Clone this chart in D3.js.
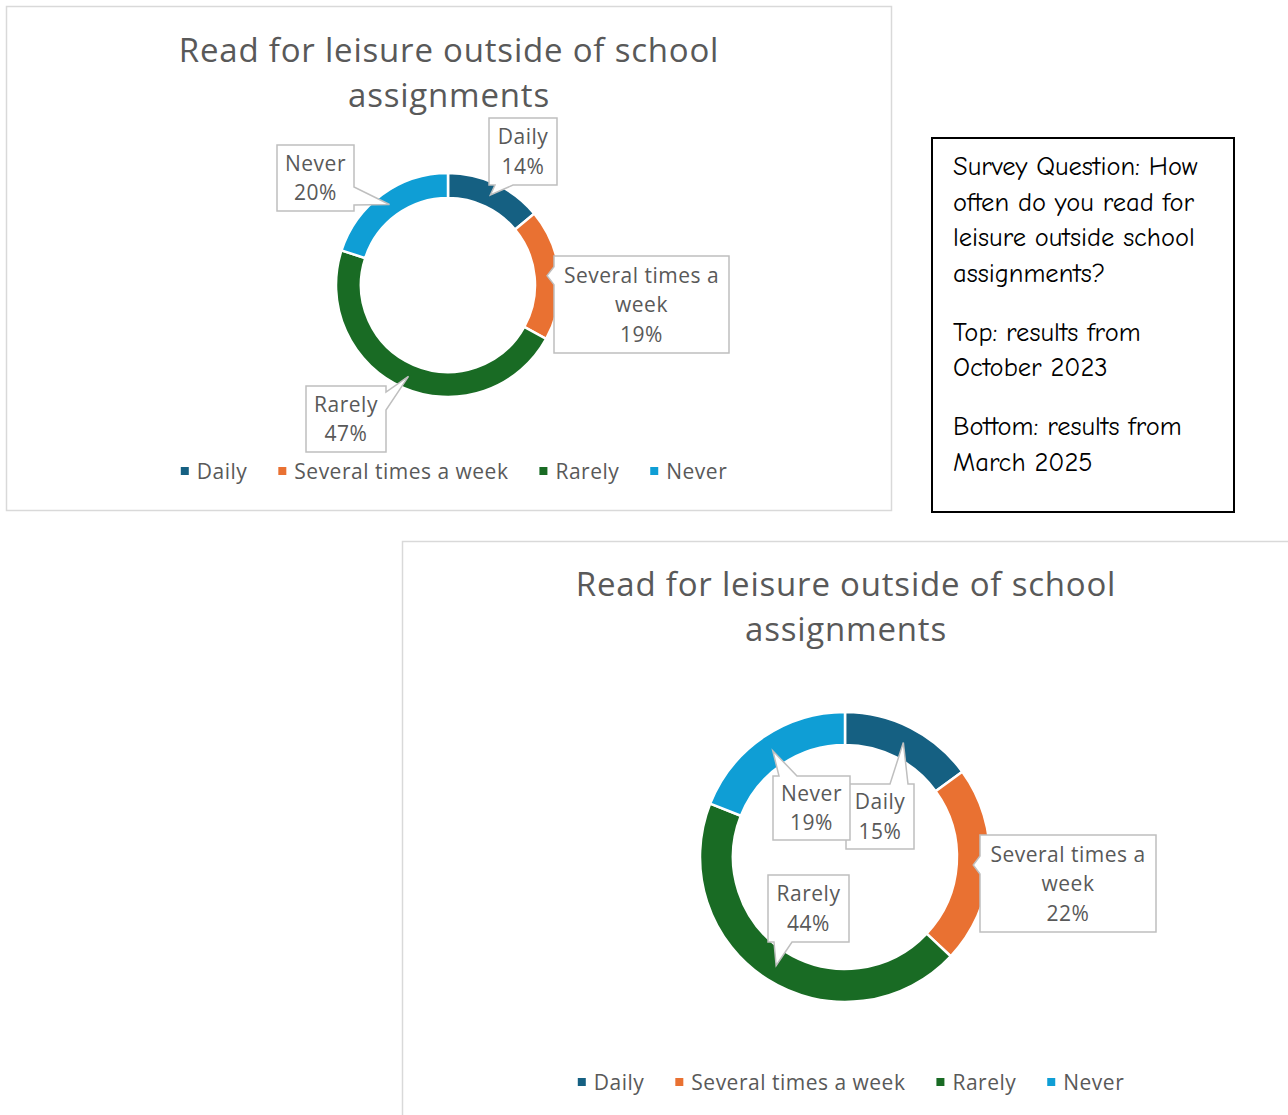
<!DOCTYPE html>
<html>
<head>
<meta charset="utf-8">
<script src="https://cdn.jsdelivr.net/npm/d3@7"></script>
<style>
  body { margin: 0; background: #fff; }
  svg { display: block; }
</style>
</head>
<body>
<svg id="page" width="1288" height="1115"></svg>
<script>
// data
const categories = ["Daily", "Several times a week", "Rarely", "Never"];
const calloutNames = [["Daily"], ["Several times a", "week"], ["Rarely"], ["Never"]];
const values2023 = [14, 19, 47, 20];
const values2025 = [15, 22, 44, 19];
const colors = ["#156082", "#E97132", "#196B24", "#0F9ED5"];
const titleLines = ["Read for leisure outside of school", "assignments"];
const noteParas = [
  ["Survey Question: How", "often do you read for", "leisure outside school", "assignments?"],
  ["Top: results from", "October 2023"],
  ["Bottom: results from", "March 2025"]
];

const font = "'Open Sans', 'Noto Sans', sans-serif";
const grey = "#595959";

const svg = d3.select("#page");

// chart layouts (callout boxes are offsets from the donut centre: dx, dy, w, h)
const charts = [
  {
    values: values2023,
    frame: [6, 6, 885, 504],
    cx: 448, cy: 285, rOuter: 112, rInner: 87,
    titleY: [62, 107],
    legendY: 471, legendCx: 454,
    callouts: [[75, -133.5, 68, 67], [193.5, 19.5, 175, 97], [-102, 134, 80, 66], [-132.5, -107, 77, 66]]
  },
  {
    values: values2025,
    frame: [402, 541, 900, 600],
    cx: 845, cy: 857, rOuter: 145, rInner: 112,
    titleY: [596, 641],
    legendY: 1082, legendCx: 851,
    callouts: [[35, -40.5, 68, 65], [223, 26.5, 176, 97], [-36.5, 51.5, 81, 67], [-33.5, -49, 77, 64]]
  }
];

function calloutPath(x, y, w, h, tx, ty) {
  // rectangle with a wedge pointing to (tx, ty)
  let ox = tx < x ? x - tx : (tx > x + w ? tx - (x + w) : 0);
  let oy = ty < y ? y - ty : (ty > y + h ? ty - (y + h) : 0);
  let half = 9;
  let pts = [];
  if (oy >= ox) {
    let c = Math.max(x + 6 + half, Math.min(x + w - 6 - half, tx));
    if (ty < y) {
      pts = [[x, y], [c - half, y], [tx, ty], [c + half, y], [x + w, y], [x + w, y + h], [x, y + h]];
    } else {
      pts = [[x, y], [x + w, y], [x + w, y + h], [c + half, y + h], [tx, ty], [c - half, y + h], [x, y + h]];
    }
  } else {
    let c = Math.max(y + 6 + half, Math.min(y + h - 6 - half, ty));
    if (tx < x) {
      pts = [[x, y], [x + w, y], [x + w, y + h], [x, y + h], [x, c + half], [tx, ty], [x, c - half]];
    } else {
      pts = [[x, y], [x + w, y], [x + w, c - half], [tx, ty], [x + w, c + half], [x + w, y + h], [x, y + h]];
    }
  }
  return "M" + pts.map(p => p.join(",")).join("L") + "Z";
}

charts.forEach(ch => {
  const g = svg.append("g");
  const [fx, fy, fw, fh] = ch.frame;

  g.append("rect")
    .attr("x", fx + 0.5).attr("y", fy + 0.5)
    .attr("width", fw).attr("height", fh)
    .attr("fill", "#fff")
    .attr("stroke", "#d9d9d9")
    .attr("stroke-width", 1.5);

  g.selectAll("text.title")
    .data(titleLines)
    .join("text")
    .attr("class", "title")
    .attr("x", ch.cx + 1)
    .attr("y", (d, i) => ch.titleY[i])
    .attr("text-anchor", "middle")
    .attr("font-family", font)
    .attr("font-size", 33)
    .attr("letter-spacing", 0.8)
    .attr("fill", grey)
    .text(d => d);

  const pie = d3.pie().sort(null).value(d => d);
  const arcs = pie(ch.values);
  const arc = d3.arc().innerRadius(ch.rInner).outerRadius(ch.rOuter);

  const donut = g.append("g").attr("transform", `translate(${ch.cx},${ch.cy})`);
  donut.selectAll("path")
    .data(arcs)
    .join("path")
    .attr("d", arc)
    .attr("fill", (d, i) => colors[i])
    .attr("stroke", "#fff")
    .attr("stroke-width", 2.5);

  // callouts
  arcs.forEach((a, i) => {
    const [tx, ty] = arc.centroid(a);
    const [dx, dy, w, h] = ch.callouts[i];
    const bx = dx - w / 2, by = dy - h / 2;
    donut.append("path")
      .attr("d", calloutPath(bx, by, w, h, tx, ty))
      .attr("fill", "#fff")
      .attr("stroke", "#bfbfbf")
      .attr("stroke-width", 1.5);
    const lines = calloutNames[i].concat([a.data + "%"]);
    const lh = 29.5;
    donut.append("g").selectAll("text")
      .data(lines)
      .join("text")
      .attr("x", dx)
      .attr("y", (d, j) => dy + (j - (lines.length - 1) / 2) * lh + 7.5)
      .attr("text-anchor", "middle")
      .attr("font-family", font)
      .attr("font-size", 21)
      .attr("letter-spacing", 0.5)
      .attr("fill", grey)
      .text(d => d);
  });

  // legend
  const leg = g.append("g");
  const items = leg.selectAll("g")
    .data(categories)
    .join("g");
  items.append("rect")
    .attr("width", 8).attr("height", 8)
    .attr("y", ch.legendY - 4)
    .attr("fill", (d, i) => colors[i]);
  items.append("text")
    .attr("x", 16)
    .attr("y", ch.legendY + 7.5)
    .attr("font-family", font)
    .attr("font-size", 21)
    .attr("letter-spacing", 0.5)
    .attr("fill", grey)
    .text(d => d);
  let xpos = 0;
  const offs = [];
  items.each(function () {
    const tw = d3.select(this).select("text").node().getComputedTextLength();
    offs.push(xpos);
    xpos += 16 + tw + 31;
  });
  const total = xpos - 31;
  const start = ch.legendCx - total / 2;
  items.attr("transform", (d, i) => `translate(${start + offs[i]},0)`);
});

// note box
const note = svg.append("g");
note.append("rect")
  .attr("x", 932).attr("y", 138)
  .attr("width", 302).attr("height", 374)
  .attr("fill", "#fff")
  .attr("stroke", "#000")
  .attr("stroke-width", 2);
let ny = 175;
noteParas.forEach(p => {
  p.forEach(line => {
    note.append("text")
      .attr("x", 953).attr("y", ny)
      .attr("font-family", "'Comic Sans MS', 'Comic Neue', 'DejaVu Sans', sans-serif")
      .attr("font-size", 26.5)
      .attr("fill", "#000")
      .text(line);
    ny += 35.5;
  });
  ny += 23.5;
});
</script>
</body>
</html>
